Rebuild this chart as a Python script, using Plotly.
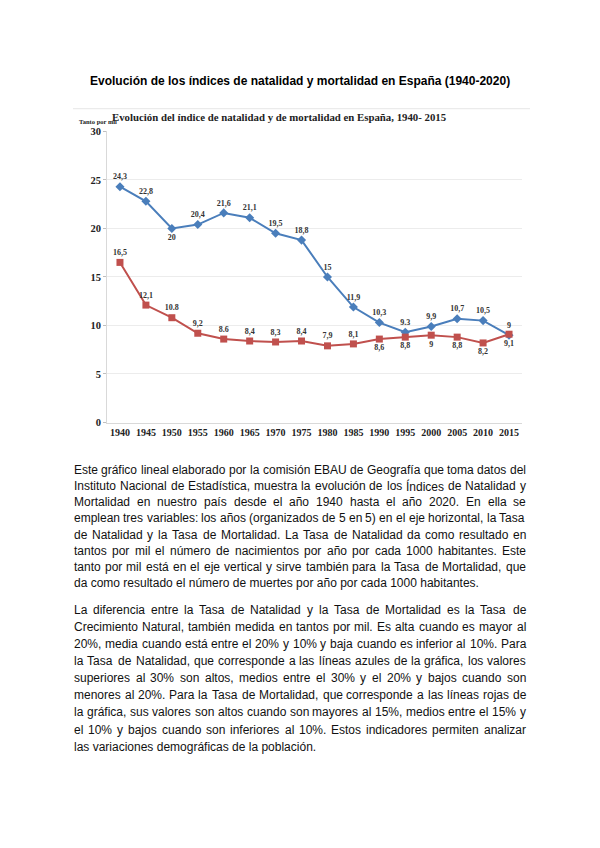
import plotly.graph_objects as go

years = ["1940", "1945", "1950", "1955", "1960", "1965", "1970", "1975",
         "1980", "1985", "1990", "1995", "2000", "2005", "2010", "2015"]
natalidad = [24.3, 22.8, 20.0, 20.4, 21.6, 21.1, 19.5, 18.8,
             15.0, 11.9, 10.3, 9.3, 9.9, 10.7, 10.5, 9.0]
mortalidad = [16.5, 12.1, 10.8, 9.2, 8.6, 8.4, 8.3, 8.4,
              7.9, 8.1, 8.6, 8.8, 9.0, 8.8, 8.2, 9.1]
natalidad_labels = ["24,3", "22,8", "20", "20,4", "21,6", "21,1", "19,5", "18,8",
                    "15", "11,9", "10,3", "9.3", "9,9", "10,7", "10,5", "9"]
mortalidad_labels = ["16,5", "12,1", "10.8", "9,2", "8.6", "8,4", "8,3", "8,4",
                     "7,9", "8,1", "8,6", "8,8", "9", "8,8", "8,2", "9,1"]
natalidad_pos = ["top center"] * 16
natalidad_pos[2] = "bottom center"
mortalidad_pos = ["top center"] * 10 + ["bottom center"] * 6

page_title = "Evolución de los índices de natalidad y mortalidad en España (1940-2020)"
chart_title = "Evolución del índice de natalidad y de mortalidad en España, 1940- 2015"
y_title = "Tanto por mil"

para1 = [
    "Este gráfico lineal elaborado por la comisión EBAU de Geografía que toma datos del",
    "Instituto Nacional de Estadística, muestra la evolución de los Índices de Natalidad y",
    "Mortalidad en nuestro país desde el año 1940 hasta el año 2020. En ella se",
    "emplean tres variables: los años (organizados de 5 en 5) en el eje horizontal, la Tasa",
    "de Natalidad y la Tasa de Mortalidad. La Tasa de Natalidad da como resultado en",
    "tantos por mil el número de nacimientos por año por cada 1000 habitantes. Este",
    "tanto por mil está en el eje vertical y sirve también para la Tasa de Mortalidad, que",
    "da como resultado el número de muertes por año por cada 1000 habitantes.",
]
para2 = [
    "La diferencia entre la Tasa de Natalidad y la Tasa de Mortalidad es la Tasa de",
    "Crecimiento Natural, también medida en tantos por mil. Es alta cuando es mayor al",
    "20%, media cuando está entre el 20% y 10% y baja cuando es inferior al 10%. Para",
    "la Tasa de Natalidad, que corresponde a las líneas azules de la gráfica, los valores",
    "superiores al 30% son altos, medios entre el 30% y el 20% y bajos cuando son",
    "menores al 20%.  Para la Tasa de Mortalidad, que corresponde a las líneas rojas de",
    "la gráfica, sus valores son altos cuando son mayores al 15%, medios entre el 15% y",
    "el 10% y bajos cuando son inferiores al 10%. Estos indicadores permiten analizar",
    "las variaciones demográficas de la población.",
]

# page has an 8px body margin; size the figure so the page fits the window exactly
OFF = 8
W, H = 600 - 2 * OFF, 848 - 2 * OFF
BLUE = "#4a7ebb"
RED = "#c0504d"
SERIF = "Liberation Serif, Times New Roman, serif"
SANS = "Liberation Sans, Arial, sans-serif"


def px(x):
    return (x - OFF) / W


def py(y):
    return 1 - (y - OFF) / H


fig = go.Figure()
fig.add_trace(go.Scatter(
    x=years, y=natalidad, mode="lines+markers+text", text=natalidad_labels,
    textposition=natalidad_pos, cliponaxis=False,
    textfont=dict(family=SERIF, size=8, color="#333333", weight="bold"),
    line=dict(color=BLUE, width=2), marker=dict(symbol="diamond", size=7, color=BLUE),
    name="Natalidad", showlegend=False))
fig.add_trace(go.Scatter(
    x=years, y=mortalidad, mode="lines+markers+text", text=mortalidad_labels,
    textposition=mortalidad_pos, cliponaxis=False,
    textfont=dict(family=SERIF, size=8, color="#333333", weight="bold"),
    line=dict(color=RED, width=2), marker=dict(symbol="square", size=7, color=RED),
    name="Mortalidad", showlegend=False))

# Arial-metric widths (per 1000 em)
WID = {" ": 278, "a": 556, "b": 556, "c": 500, "d": 556, "e": 556, "f": 278, "g": 556,
       "h": 556, "i": 222, "j": 222, "k": 500, "l": 222, "m": 833, "n": 556, "o": 556,
       "p": 556, "q": 556, "r": 333, "s": 500, "t": 278, "u": 556, "v": 500, "w": 722,
       "x": 500, "y": 500, "z": 500, "A": 667, "B": 667, "C": 722, "D": 722, "E": 667,
       "F": 611, "G": 778, "H": 722, "I": 278, "J": 500, "K": 667, "L": 556, "M": 833,
       "N": 722, "O": 778, "P": 667, "Q": 778, "R": 722, "S": 667, "T": 611, "U": 722,
       "V": 667, "W": 944, "X": 667, "Y": 667, "Z": 611, ".": 278, ",": 278, ":": 278,
       "(": 333, ")": 333, "%": 889, "-": 333, "á": 556, "é": 556, "í": 278, "ó": 556,
       "ú": 556, "ñ": 556, "Í": 278}
for d in "0123456789":
    WID[d] = 556

FS = 12


def wwidth(s):
    return sum(WID.get(c, 556) for c in s) * FS / 1000.0


annotations = []
LEFT, RIGHT = 73, 525


def add_para(lines, y0, dy):
    for i, line in enumerate(lines):
        y = y0 + i * dy
        last = i == len(lines) - 1
        if last:
            annotations.append(dict(x=px(LEFT), y=py(y), xref="paper", yref="paper",
                                    text=line, showarrow=False, xanchor="left",
                                    yanchor="middle", borderpad=0,
                                    font=dict(family=SANS, size=FS, color="#111111")))
            continue
        words = line.split()
        tot = sum(wwidth(w) for w in words)
        gap = (RIGHT - LEFT - tot) / (len(words) - 1)
        x = LEFT
        for w in words:
            annotations.append(dict(x=px(x), y=py(y), xref="paper", yref="paper",
                                    text=w, showarrow=False, xanchor="left",
                                    yanchor="middle", borderpad=0,
                                    font=dict(family=SANS, size=FS, color="#111111")))
            x += wwidth(w) + gap


add_para(para1, 471, 16.4)
add_para(para2, 613, 17.3)

annotations.append(dict(x=px(300), y=py(77), xref="paper", yref="paper", text="<b>" + page_title + "</b>",
                        showarrow=False, xanchor="center", yanchor="middle",
                        font=dict(family=SANS, size=12, color="#000000")))
annotations.append(dict(x=px(111), y=py(113.5), xref="paper", yref="paper", text=chart_title,
                        showarrow=False, xanchor="left", yanchor="middle", borderpad=0,
                        font=dict(family=SERIF, size=10.8, color="#222222", weight="bold")))
annotations.append(dict(x=px(78), y=py(118), xref="paper", yref="paper", text=y_title,
                        showarrow=False, xanchor="left", yanchor="middle", borderpad=0,
                        font=dict(family=SERIF, size=6.5, color="#222222", weight="bold")))

fig.update_layout(
    width=W, height=H, margin=dict(l=0, r=0, t=0, b=0),
    paper_bgcolor="white", plot_bgcolor="white",
    annotations=annotations,
    shapes=[dict(type="line", xref="paper", yref="paper", x0=px(73), x1=px(530),
                 y0=py(105), y1=py(105), line=dict(color="#e6e6e6", width=1))],
    xaxis=dict(domain=[px(107), px(522)], type="category", range=[-0.5, 15.5],
               showgrid=False, showline=True, linecolor="#d9d9d9", linewidth=1,
               ticks="", tickfont=dict(family=SERIF, size=10, color="#222222", weight="bold"),
               zeroline=False, fixedrange=True),
    yaxis=dict(domain=[py(423), py(128)], range=[0, 30], dtick=5,
               showgrid=True, gridcolor="#ececec", gridwidth=1,
               showline=True, linecolor="#d9d9d9", linewidth=1,
               ticks="outside", ticklen=3, tickcolor="#bfbfbf",
               tickfont=dict(family=SERIF, size=10.5, color="#222222", weight="bold"),
               zeroline=False, fixedrange=True),
)

fig.write_html("out.html")
